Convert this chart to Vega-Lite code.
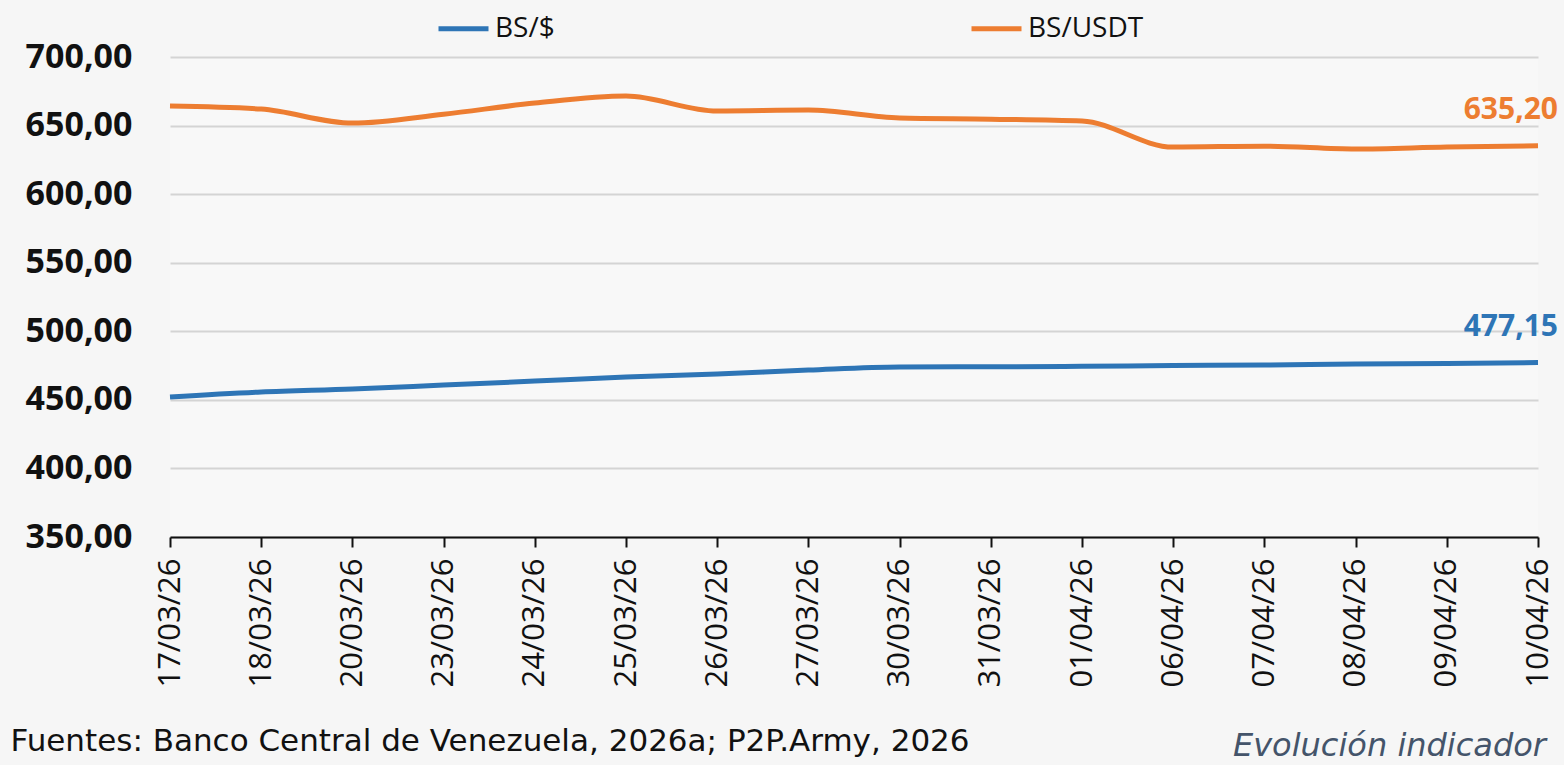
{
  "$schema": "https://vega.github.io/schema/vega-lite/v6.json",
  "autosize": {"type": "none"},
  "width": 1368,
  "height": 480,
  "padding": {"left": 170, "top": 57, "right": 26, "bottom": 228},
  "background": "#f6f6f6",
  "config": {
    "view": {"stroke": null, "fill": "#f8f8f8"},
    "locale": {"number": {"decimal": ",", "thousands": ".", "grouping": [3], "currency": ["", ""]}},
    "font": "Open Sans"
  },
  "title": {
    "text": "Evolución indicador",
    "orient": "bottom",
    "anchor": "end",
    "font": "DejaVu Sans",
    "fontStyle": "italic",
    "fontWeight": "normal",
    "fontSize": 32,
    "color": "#44546a",
    "dx": -12,
    "dy": -25,
    "offset": 0
  },
  "data": {
    "values": [
      {"d": "17/03/26", "serie": "BS/$", "v": 452.1},
      {"d": "18/03/26", "serie": "BS/$", "v": 455.7},
      {"d": "20/03/26", "serie": "BS/$", "v": 457.9},
      {"d": "23/03/26", "serie": "BS/$", "v": 460.8},
      {"d": "24/03/26", "serie": "BS/$", "v": 463.7},
      {"d": "25/03/26", "serie": "BS/$", "v": 466.6},
      {"d": "26/03/26", "serie": "BS/$", "v": 468.8},
      {"d": "27/03/26", "serie": "BS/$", "v": 471.7},
      {"d": "30/03/26", "serie": "BS/$", "v": 474.0},
      {"d": "31/03/26", "serie": "BS/$", "v": 474.1},
      {"d": "01/04/26", "serie": "BS/$", "v": 474.5},
      {"d": "06/04/26", "serie": "BS/$", "v": 475.0},
      {"d": "07/04/26", "serie": "BS/$", "v": 475.4},
      {"d": "08/04/26", "serie": "BS/$", "v": 476.1},
      {"d": "09/04/26", "serie": "BS/$", "v": 476.5},
      {"d": "10/04/26", "serie": "BS/$", "v": 477.15},
      {"d": "17/03/26", "serie": "BS/USDT", "v": 664.2},
      {"d": "18/03/26", "serie": "BS/USDT", "v": 662.0},
      {"d": "20/03/26", "serie": "BS/USDT", "v": 651.8},
      {"d": "23/03/26", "serie": "BS/USDT", "v": 658.3},
      {"d": "24/03/26", "serie": "BS/USDT", "v": 666.4},
      {"d": "25/03/26", "serie": "BS/USDT", "v": 671.5},
      {"d": "26/03/26", "serie": "BS/USDT", "v": 660.6},
      {"d": "27/03/26", "serie": "BS/USDT", "v": 661.3},
      {"d": "30/03/26", "serie": "BS/USDT", "v": 655.5},
      {"d": "31/03/26", "serie": "BS/USDT", "v": 654.7},
      {"d": "01/04/26", "serie": "BS/USDT", "v": 653.3},
      {"d": "06/04/26", "serie": "BS/USDT", "v": 634.3},
      {"d": "07/04/26", "serie": "BS/USDT", "v": 635.0},
      {"d": "08/04/26", "serie": "BS/USDT", "v": 632.9},
      {"d": "09/04/26", "serie": "BS/USDT", "v": 634.3},
      {"d": "10/04/26", "serie": "BS/USDT", "v": 635.2}
    ]
  },
  "encoding": {
    "x": {
      "field": "d",
      "type": "ordinal",
      "sort": null,
      "scale": {"type": "point", "padding": 0},
      "axis": {
        "title": "Fuentes: Banco Central de Venezuela, 2026a; P2P.Army, 2026",
        "titleFont": "DejaVu Sans",
        "titleFontSize": 31,
        "titleFontWeight": "normal",
        "titleColor": "#111111",
        "titleAnchor": "start",
        "titleAlign": "left",
        "titleBaseline": "middle",
        "titleX": -160,
        "titleY": 204,
        "labelAngle": -90,
        "labelFont": "Open Sans",
        "labelFontSize": 31,
        "labelColor": "#111111",
        "labelPadding": 11,
        "domainColor": "#111111",
        "domainWidth": 2,
        "tickColor": "#111111",
        "tickWidth": 2,
        "tickSize": 10,
        "grid": false
      }
    },
    "y": {
      "field": "v",
      "type": "quantitative",
      "scale": {"domain": [350, 700], "nice": false, "zero": false},
      "axis": {
        "title": null,
        "values": [350, 400, 450, 500, 550, 600, 650, 700],
        "format": ".2f",
        "labelFont": "Open Sans",
        "labelFontWeight": "bold",
        "labelFontSize": 34,
        "labelColor": "#111111",
        "labelPadding": 38,
        "domain": false,
        "ticks": false,
        "grid": true,
        "gridColor": "#d4d4d4",
        "gridWidth": 2
      }
    },
    "color": {
      "field": "serie",
      "type": "nominal",
      "scale": {"domain": ["BS/$", "BS/USDT"], "range": ["#2e75b6", "#ed7d31"]},
      "legend": {
        "title": null,
        "orient": "none",
        "direction": "horizontal",
        "legendX": 266,
        "legendY": -56,
        "symbolType": "stroke",
        "symbolSize": 2500,
        "symbolStrokeWidth": 5,
        "labelFont": "Open Sans",
        "labelFontSize": 28,
        "labelColor": "#111111",
        "labelOffset": 4,
        "columnPadding": 406,
        "padding": 0
      }
    }
  },
  "layer": [
    {
      "mark": {"type": "line", "interpolate": "monotone", "strokeWidth": 5}
    },
    {
      "transform": [{"filter": "datum.d == '10/04/26'"}],
      "mark": {"type": "text", "align": "right", "baseline": "middle", "dx": 20, "dy": -36, "font": "Open Sans", "fontWeight": "bold", "fontSize": 30},
      "encoding": {
        "text": {"field": "v", "type": "quantitative", "format": ".2f"}
      }
    }
  ]
}
